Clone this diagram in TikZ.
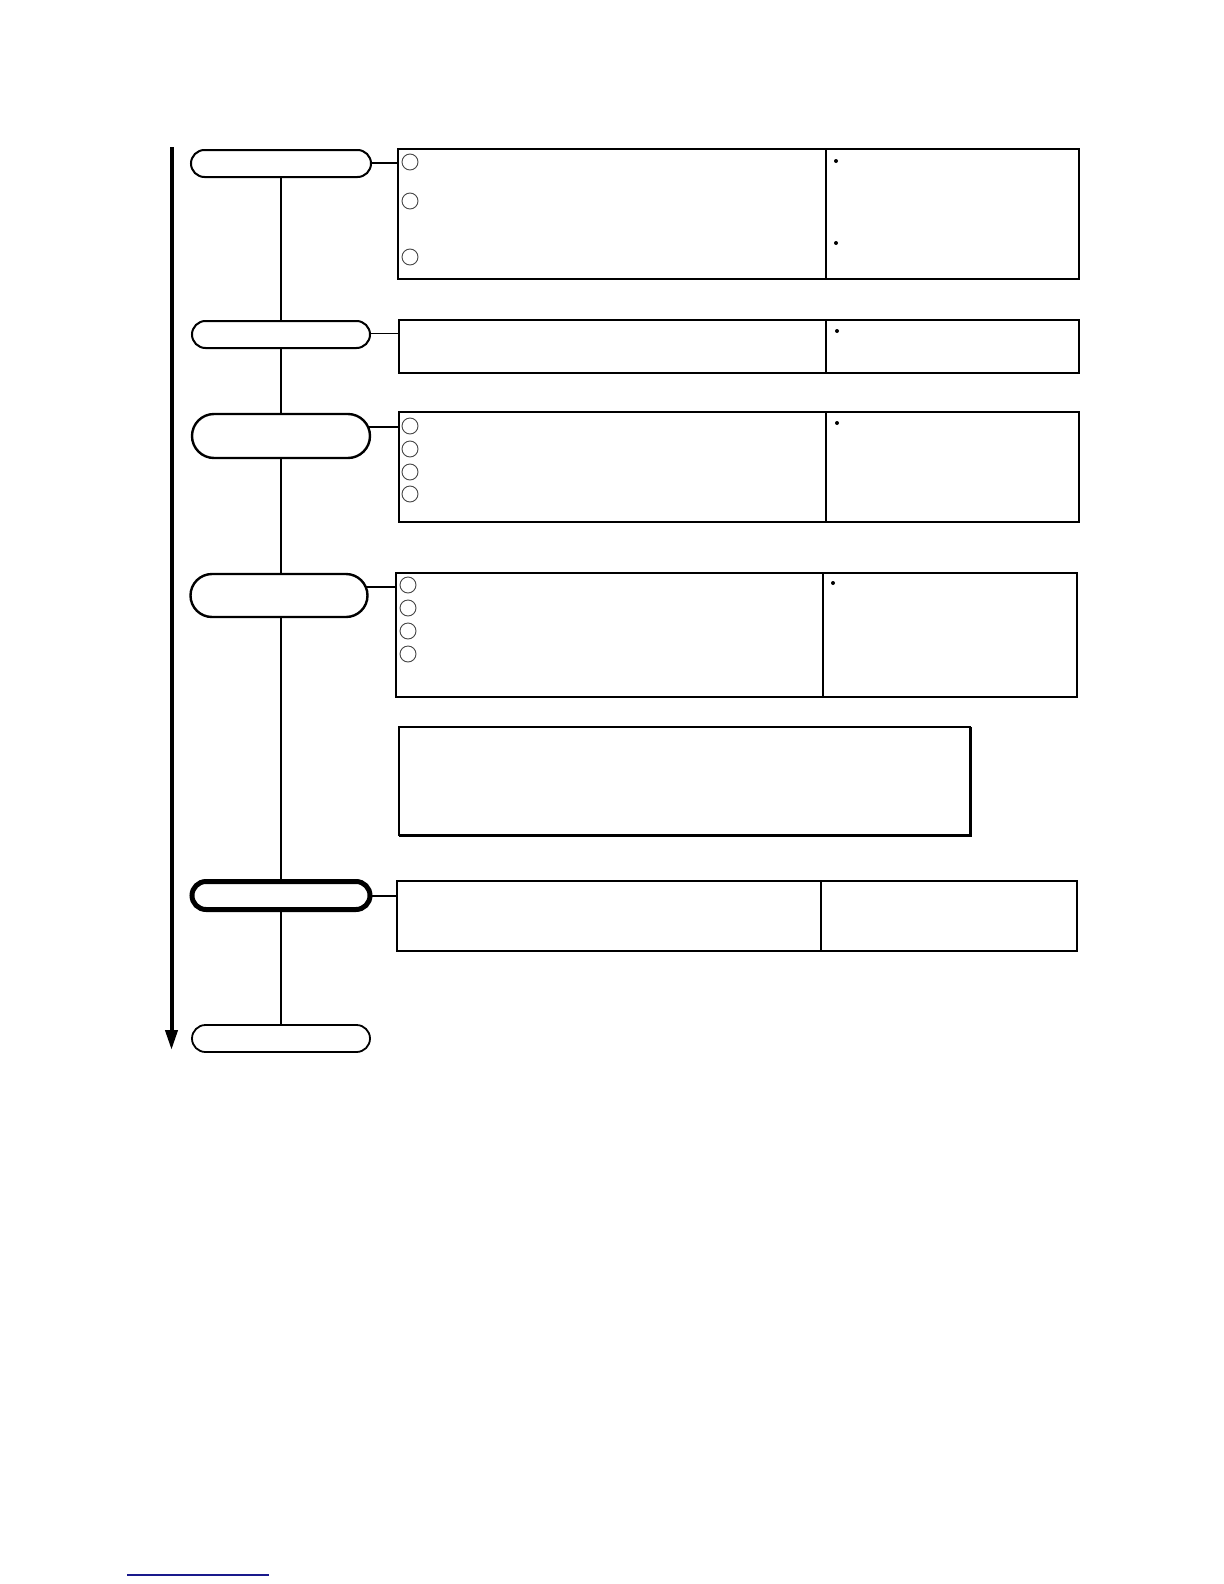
\documentclass[tikz,border=0pt]{standalone}
\usetikzlibrary{shapes.misc,arrows.meta}
\definecolor{navyline}{RGB}{25,25,140}
\definecolor{circgray}{RGB}{70,70,70}
\tikzset{
  pill/.style={rounded rectangle, draw, line width=1pt, inner sep=0pt, outer sep=0pt, fill=white},
  cell/.style={draw, line width=1.3pt, anchor=north west, inner sep=0pt, outer sep=0pt},
  numcirc/.style={circle, draw=circgray, line width=0.45pt, minimum size=8pt, inner sep=0pt},
  bulletdot/.style={circle, fill=black, minimum size=2pt, inner sep=0pt},
  spine/.style={line width=0.6pt},
  conn/.style={line width=1.1pt},
  timearrow/.style={line width=2pt, -{Triangle[length=10pt,width=6pt]}}
}
\begin{document}
\begin{tikzpicture}[x=0.5pt,y=-0.5pt]
\useasboundingbox (0,0) rectangle (1224,1584);
% time arrow
\coordinate (atop) at (171.5,147);
\coordinate (abot) at (171.5,1050);
\draw[timearrow] (atop) -- (abot);
% pills
\node[pill, minimum width=90pt, minimum height=13.5pt] (p1) at (281,163.5) {};
\node[pill, minimum width=89pt, minimum height=13.5pt] (p2) at (281,334.5) {};
\node[pill, line width=1.2pt, minimum width=89pt, minimum height=22pt] (p3) at (281,436) {};
\node[pill, line width=1.2pt, minimum width=88.5pt, minimum height=21.5pt] (p4) at (279,595.5) {};
\node[pill, line width=2.5pt, minimum width=89pt, minimum height=14pt] (p5) at (281,895.5) {};
\node[pill, line width=0.9pt, minimum width=89pt, minimum height=13.5pt] (p6) at (281,1038.5) {};
% spine
\draw[spine] (p1.south) -- (p1.south |- p2.north);
\draw[spine] (p2.south) -- (p2.south |- p3.north);
\draw[spine] (p3.south) -- (p3.south |- p4.north);
\draw[spine] (p4.south -| p3.south) -- (p3.south |- p5.north);
\draw[spine] (p5.south) -- (p5.south |- p6.north);
% table 1
\node[cell, minimum width=214pt, minimum height=65pt] (b1l) at (398,149) {};
\node[cell, minimum width=126.5pt, minimum height=65pt] (b1r) at (826,149) {};
% table 2
\node[cell, minimum width=213.5pt, minimum height=26.5pt] (b2l) at (399,320) {};
\node[cell, minimum width=126.5pt, minimum height=26.5pt] (b2r) at (826,320) {};
% table 3
\node[cell, minimum width=213.5pt, minimum height=55pt] (b3l) at (399,412) {};
\node[cell, minimum width=126.5pt, minimum height=55pt] (b3r) at (826,412) {};
% table 4
\node[cell, minimum width=213.5pt, minimum height=62pt] (b4l) at (396,573) {};
\node[cell, minimum width=127pt, minimum height=62pt] (b4r) at (823,573) {};
% big note box
\node[cell, line width=0.75pt, minimum width=285.5pt, minimum height=54pt] (bb) at (399,727) {};
\draw[line width=1.5pt] (bb.north east) -- (bb.south east) -- (bb.south west);
% table 5
\node[cell, minimum width=212pt, minimum height=35pt] (b5l) at (397,881) {};
\node[cell, minimum width=128pt, minimum height=35pt] (b5r) at (821,881) {};
% connectors
\coordinate (c1) at ([yshift=0.25pt]p1.east);
\draw[conn] (c1) -- (c1 -| b1l.west);
\coordinate (c2) at ([yshift=0.5pt]p2.east);
\draw[conn, line width=0.8pt] (c2) -- (c2 -| b2l.west);
\coordinate (c3) at ([xshift=-0.9pt,yshift=4.5pt]p3.east);
\draw[conn, line width=0.8pt] (c3) -- (c3 -| b3l.west);
\coordinate (c4) at ([xshift=-0.9pt,yshift=4.25pt]p4.east);
\draw[conn] (c4) -- (c4 -| b4l.west);
\coordinate (c5) at ([yshift=-0.25pt]p5.east);
\draw[conn] (c5) -- (c5 -| b5l.west);
% numbered circles
\node[numcirc] (n11) at (410,162) {};
\node[numcirc] (n12) at (410,201) {};
\node[numcirc] (n13) at (410,257) {};
\node[numcirc] (n31) at (410,426) {};
\node[numcirc] (n32) at (410,449) {};
\node[numcirc] (n33) at (410,472) {};
\node[numcirc] (n34) at (410,494) {};
\node[numcirc] (n41) at (408,585) {};
\node[numcirc] (n42) at (408,608) {};
\node[numcirc] (n43) at (408,631) {};
\node[numcirc] (n44) at (408,654) {};
% bullets
\node[bulletdot] (d11) at (836,161) {};
\node[bulletdot] (d12) at (836,243) {};
\node[bulletdot] (d21) at (837,331) {};
\node[bulletdot] (d31) at (837,423) {};
\node[bulletdot] (d41) at (833,583) {};
% bottom rule
\coordinate (u1) at (127,1575);
\coordinate (u2) at (269,1575);
\draw[navyline, line width=0.8pt] (u1) -- (u2);
\end{tikzpicture}
\end{document}
